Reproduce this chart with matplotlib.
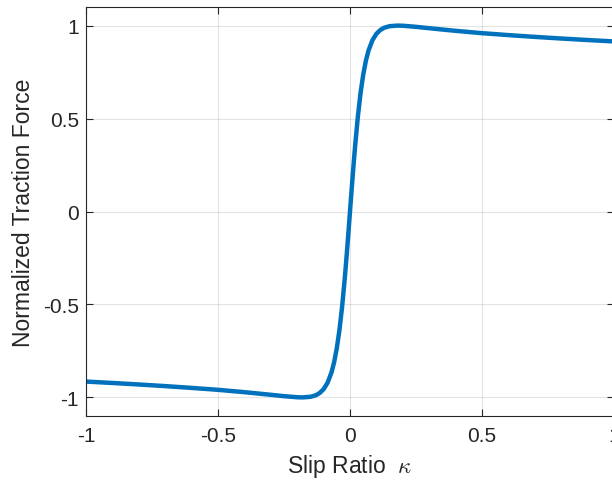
import matplotlib
matplotlib.use("Agg")
import matplotlib.pyplot as plt

plt.rcParams['font.family'] = ['Liberation Sans', 'DejaVu Sans']
plt.rcParams['mathtext.fontset'] = 'cm'

kappa_pos = [0.0, 0.005, 0.01, 0.015, 0.02, 0.03, 0.04, 0.05, 0.06, 0.07, 0.085,
             0.1, 0.115, 0.13, 0.15, 0.18, 0.2, 0.25, 0.3, 0.4, 0.5, 0.6, 0.7,
             0.8, 0.9, 1.0]
force_pos = [0.0, 0.095, 0.1878, 0.2772, 0.3621, 0.5135, 0.6381, 0.7356, 0.8098,
             0.8652, 0.9214, 0.9558, 0.9765, 0.9887, 0.9968, 1.0000, 0.9992,
             0.9933, 0.9859, 0.9718, 0.9592, 0.9489, 0.9392, 0.9305, 0.9223, 0.9148]

kappa = [-k for k in kappa_pos[:0:-1]] + kappa_pos
force = [-f for f in force_pos[:0:-1]] + force_pos

xticks = [-1, -0.5, 0, 0.5, 1]
xticklabels = ['-1', '-0.5', '0', '0.5', '1']
yticks = [-1, -0.5, 0, 0.5, 1]
yticklabels = ['-1', '-0.5', '0', '0.5', '1']

fig = plt.figure(figsize=(6.12, 4.81), dpi=100)
ax = fig.add_axes([86/612, 64/481, 528/612, 409/481])
ax.plot(kappa, force, color='#0072BD', linewidth=3.2, solid_joinstyle='round')
ax.set_xlim(-1, 1)
ax.set_ylim(-1.1, 1.1)
ax.set_xticks(xticks)
ax.set_xticklabels(xticklabels)
ax.set_yticks(yticks)
ax.set_yticklabels(yticklabels)
ax.grid(True, color='#262626', alpha=0.12, linewidth=0.8)
ax.set_axisbelow(True)
for s in ax.spines.values():
    s.set_color('#262626')
    s.set_linewidth(0.8)
ax.tick_params(direction='in', length=5, width=0.8, colors='#262626',
               labelsize=15, top=True, right=True)
ax.tick_params(axis='x', pad=7)
ax.tick_params(axis='y', pad=5)
ax.set_xlabel(r'Slip Ratio  $\kappa$', fontsize=16.5, color='#262626', labelpad=5)
ax.set_ylabel('Normalized Traction Force', fontsize=16.5, color='#262626', labelpad=6)
fig.savefig('out.png', dpi=100)
